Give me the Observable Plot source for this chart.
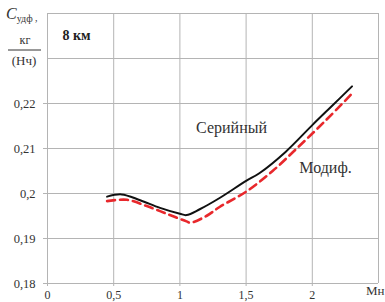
<!DOCTYPE html>
<html><head><meta charset="utf-8">
<script src="https://cdn.jsdelivr.net/npm/d3@7"></script>
<script src="https://cdn.jsdelivr.net/npm/@observablehq/plot@0.6"></script>
<style>body{margin:0;background:#fff}</style>
</head><body><div id="chart"></div>
<script>
const serialM = [0.45,0.56,0.7,0.85,1.0,1.05,1.15,1.3,1.5,1.6,1.8,2.0,2.15,2.3];
const serialC = [0.1993,0.1998,0.1985,0.1968,0.1955,0.1952,0.1965,0.1990,0.2028,0.2045,0.2093,0.2152,0.2195,0.2238];
const modM = [0.45,0.6,0.75,0.9,1.05,1.08,1.2,1.3,1.5,1.7,1.9,2.1,2.3];
const modC = [0.1983,0.1986,0.1972,0.1955,0.1938,0.1935,0.1950,0.1970,0.2004,0.2050,0.2105,0.2162,0.2222];
const xTicks = [0,0.5,1,1.5,2];
const yTicks = [0.18,0.19,0.2,0.21,0.22];
const xGrid = [0,0.5,1,1.5,2,2.5];
const yGrid = [0.18,0.19,0.2,0.21,0.22,0.23,0.24];
const labels = [
  {x:0.113, y:0.2352, text:"8 км", bold:true},
  {x:1.39, y:0.2146, text:"Серийный", bold:false},
  {x:2.10, y:0.2057, text:"Модиф.", bold:false}
];
const serial = serialM.map((m,i)=>({m, c:serialC[i]}));
const mod = modM.map((m,i)=>({m, c:modC[i]}));
const fmt = d => String(d).replace(".", ",");
const grid = "#b4b4b4";
const serifFont = "'Liberation Serif', 'Times New Roman', serif";
const plot = Plot.plot({
  width:385, height:302,
  marginLeft:47, marginRight:7, marginTop:13, marginBottom:19,
  style:{fontSize:"12px", color:"#333", background:"#fff"},
  x:{domain:[0,2.5]},
  y:{domain:[0.18,0.24]},
  marks:[
    Plot.gridX(xGrid, {stroke:grid, strokeOpacity:1}),
    Plot.gridY(yGrid, {stroke:grid, strokeOpacity:1}),
    Plot.axisX(xTicks, {tickSize:3, tickPadding:4, tickFormat:fmt, stroke:grid, label:null, fill:"#333", fontSize:12}),
    Plot.axisY(yTicks, {tickSize:4, tickPadding:8, tickFormat:fmt, stroke:grid, label:null, fill:"#333", fontSize:12.5}),
    Plot.line(mod, {x:"m", y:"c", stroke:"#e8282c", strokeWidth:2.6, strokeDasharray:"8,5", curve:"catmull-rom"}),
    Plot.line(serial, {x:"m", y:"c", stroke:"#111", strokeWidth:2, curve:"catmull-rom"}),
    Plot.text(labels.filter(d=>d.bold), {x:"x", y:"y", text:"text", textAnchor:"start", fontWeight:"bold", fontSize:14, fill:"#222"}),
    Plot.text(labels.filter(d=>!d.bold), {x:"x", y:"y", text:"text", textAnchor:"middle", fontSize:16, fill:"#333"}),
    Plot.text(["Мн"], {frameAnchor:"bottom-right", dx:6, dy:11, fontSize:13, fill:"#333", textAnchor:"end"})
  ]
});
const svg = d3.select(plot);
svg.attr("overflow","visible");
const t = svg.append("g").attr("fill","#333").attr("text-anchor","start");
const c = t.append("text").attr("x",6).attr("y",19);
c.append("tspan").attr("font-style","italic").attr("font-size",16).text("C");
c.append("tspan").attr("font-size",10).attr("dy",3).text("удф");
c.append("tspan").attr("font-size",10).attr("dy",-1).text(" ,");
t.append("text").attr("x",25).attr("y",44).attr("font-size",12).attr("text-anchor","middle").text("кг");
t.append("line").attr("x1",8).attr("x2",41).attr("y1",50).attr("y2",50).attr("stroke","#333").attr("stroke-width",1);
t.append("text").attr("x",24).attr("y",65).attr("font-size",13).attr("text-anchor","middle").text("(Нч)");
svg.attr("font-family", serifFont).style("font-family", serifFont);
svg.selectAll("g").attr("font-family", serifFont);
svg.selectAll("text").attr("font-family", serifFont).style("font-family", serifFont);
document.getElementById("chart").append(plot);
</script>
</body></html>
